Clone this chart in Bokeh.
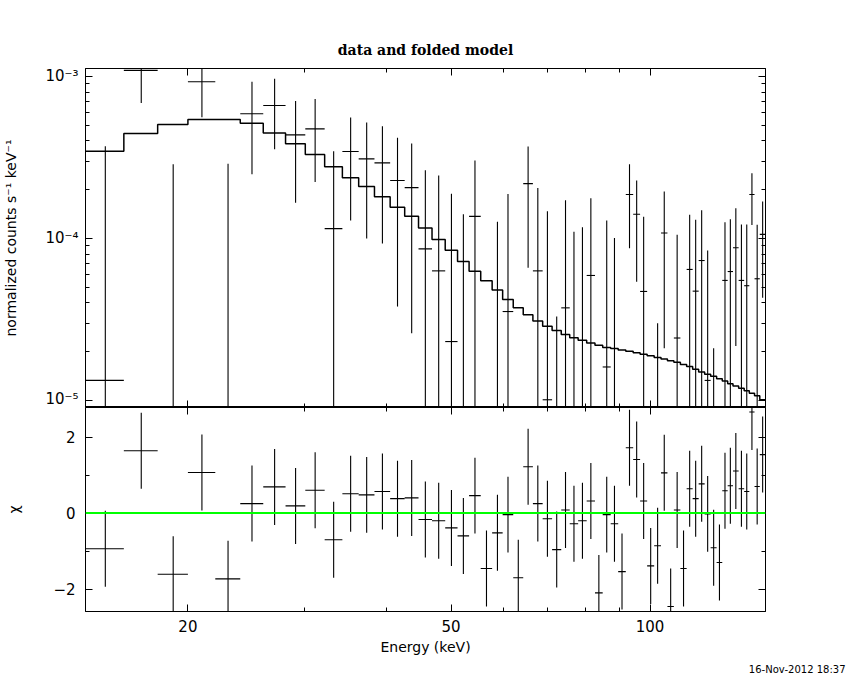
import numpy as np
from bokeh.plotting import figure
from bokeh.layouts import column
from bokeh.models import (Range1d, FixedTicker, LogAxis, LinearAxis, Span, Title,
                          CustomJSTickFormatter)
from bokeh.embed import file_html
from bokeh.resources import INLINE

# ---------------- data ----------------
edges = [14, 16, 18, 20, 22, 24, 26, 28.1, 30.1, 32.2, 34.25, 36.25, 38.3, 40.45,
         42.55, 44.65, 46.8, 49.0, 51.15, 53.25, 55.45, 57.7, 59.85, 62.1, 64.3,
         66.5, 68.8, 71.1, 73.4, 75.6, 77.85, 80.2, 82.55, 84.8, 87.2, 89.5, 91.9,
         94.3, 96.6, 99.0, 101.45, 103.9, 106.25, 108.65, 111.15, 113.6, 116.0,
         118.45, 120.95, 123.5, 126.1, 128.6, 131.05, 133.5, 136.15, 138.8, 141.3,
         143.9, 146.55, 149.5]

model = [3.46e-4, 4.45e-4, 5.06e-4, 5.43e-4, 5.43e-4, 5.15e-4, 4.47e-4, 3.84e-4,
         3.30e-4, 2.77e-4, 2.37e-4, 2.09e-4, 1.81e-4, 1.56e-4, 1.37e-4, 1.16e-4,
         9.86e-5, 8.47e-5, 7.21e-5, 6.28e-5, 5.48e-5, 4.80e-5, 4.20e-5, 3.73e-5,
         3.38e-5, 3.10e-5, 2.87e-5, 2.70e-5, 2.55e-5, 2.44e-5, 2.35e-5, 2.26e-5,
         2.19e-5, 2.12e-5, 2.09e-5, 2.05e-5, 2.01e-5, 1.97e-5, 1.93e-5, 1.89e-5,
         1.84e-5, 1.80e-5, 1.76e-5, 1.72e-5, 1.67e-5, 1.62e-5, 1.56e-5, 1.50e-5,
         1.45e-5, 1.41e-5, 1.36e-5, 1.32e-5, 1.27e-5, 1.23e-5, 1.19e-5, 1.15e-5,
         1.11e-5, 1.07e-5, 1.01e-5]

rate = [1.33e-5, 1.09e-3, -7.2e-5, 9.27e-4, -5.9e-5, 5.89e-4, 6.62e-4, 4.36e-4,
        4.75e-4, 1.15e-4, 3.44e-4, 3.10e-4, 2.93e-4, 2.28e-4, 2.06e-4, 8.63e-5,
        6.31e-5, 2.31e-5, -3.1e-5, 1.37e-4, -1.79e-4, -3.8e-5, 3.54e-5, -2.26e-4,
        2.18e-4, 6.31e-5, 1.01e-5, -1.07e-4, 3.73e-5, -8.9e-6, 1.0e-7, 5.91e-5,
        -2.20e-4, 1.61e-5, -1.02e-5, -1.49e-4, 1.87e-4, 1.41e-4, 4.71e-5, -1.06e-4,
        -5.6e-5, 1.08e-4, -1.91e-4, 2.43e-5, -1.0e-4, 6.44e-5, 4.73e-5, 7.31e-5,
        1.33e-5, -5.9e-5, -8.4e-5, 5.51e-5, 6.25e-5, 8.77e-5, 5.51e-5, 5.11e-5,
        1.87e-4, 5.64e-5, 1.06e-4]

rate_err = [3.57e-4, 4.05e-4, 3.59e-4, 3.66e-4, 3.48e-4, 3.40e-4, 3.06e-4, 2.70e-4,
            2.52e-4, 2.31e-4, 2.15e-4, 2.10e-4, 2.00e-4, 1.90e-4, 1.80e-4, 1.77e-4,
            1.82e-4, 1.66e-4, 1.72e-4, 1.66e-4, 1.60e-4, 1.65e-4, 1.53e-4, 1.55e-4,
            1.52e-4, 1.42e-4, 1.37e-4, 1.40e-4, 1.35e-4, 1.19e-4, 1.17e-4, 1.18e-4,
            1.15e-4, 1.13e-4, 1.11e-4, 1.10e-4, 1.00e-4, 8.7e-5, 8.9e-5, 9.0e-5,
            8.6e-5, 8.7e-5, 8.5e-5, 8.1e-5, 8.0e-5, 7.56e-5, 8.3e-5, 7.6e-5,
            7.1e-5, 8.0e-5, 7.5e-5, 7.1e-5, 6.9e-5, 6.6e-5, 6.7e-5, 7.1e-5,
            6.6e-5, 6.5e-5, 6.3e-5]

chi = [-0.94, 1.64, -1.61, 1.07, -1.73, 0.25, 0.69, 0.19, 0.60, -0.70, 0.51, 0.48,
       0.57, 0.38, 0.40, -0.17, -0.20, -0.39, -0.60, 0.46, -1.46, -0.52, -0.04,
       -1.70, 1.22, 0.25, -0.15, -0.96, 0.08, -0.28, -0.20, 0.32, -2.10, -0.04,
       -0.28, -1.54, 1.72, 1.41, 0.32, -1.39, -0.86, 1.06, -2.46, 0.08, -1.46,
       0.64, 0.38, 0.77, -0.02, -0.91, -1.30, 0.59, 0.72, 1.11, 0.64, 0.57, 2.66,
       0.70, 1.54]

chi_err = [1.0] * len(chi)

title_text = "data and folded model"
x_label = "Energy (keV)"
y_label_top = "normalized counts s\u207b\u00b9 keV\u207b\u00b9"
y_label_bot = "\u03c7"
date_text = "16-Nov-2012 18:37"

x_major = [20, 50, 100]
x_minor = [30, 40, 60, 70, 80, 90]
y_major = [1e-5, 1e-4, 1e-3]
y_minor = [k * 1e-5 for k in range(2, 10)] + [k * 1e-4 for k in range(2, 10)]
c_major = [-2, 0, 2]
c_minor = [-1, 1]

# ---------------- derived arrays ----------------
lo = np.array(edges[:-1])
hi = np.array(edges[1:])
mid = (lo + hi) / 2.0
rate_a = np.array(rate)
err_a = np.array(rate_err)
chi_a = np.array(chi)
cerr_a = np.array(chi_err)

FONT = "DejaVu Sans"
W = 850
ML, MR = 85, 85

blank = CustomJSTickFormatter(code="return ''")
sup_fmt = CustomJSTickFormatter(code="""
const e = Math.round(Math.log10(tick));
const s = {'-':'\u207b','0':'\u2070','1':'\u00b9','2':'\u00b2','3':'\u00b3','4':'\u2074','5':'\u2075','6':'\u2076','7':'\u2077','8':'\u2078','9':'\u2079'};
return '10' + String(e).split('').map(c => s[c]).join('');
""")
int_fmt = CustomJSTickFormatter(code="return tick.toFixed(0);")
chi_fmt = CustomJSTickFormatter(code="return tick < 0 ? '\u2212' + Math.abs(tick) : String(tick);")


def style(ax, ticker, fmt, labels):
    ax.ticker = ticker
    ax.formatter = fmt if labels else blank
    ax.major_tick_in = 7
    ax.major_tick_out = 0
    ax.minor_tick_in = 4
    ax.minor_tick_out = 0
    ax.major_tick_line_color = "black"
    ax.minor_tick_line_color = "black"
    ax.axis_line_color = "black"
    ax.major_label_text_font = FONT
    ax.major_label_text_font_size = "15px"
    ax.major_label_text_color = "black"
    ax.axis_label_text_font = FONT
    ax.axis_label_text_font_size = "14px"
    ax.axis_label_text_font_style = "normal"
    ax.axis_label_text_color = "black"
    if not labels:
        ax.major_label_standoff = 0


# ---------------- top panel ----------------
top = figure(width=W, height=407, x_axis_type="log", y_axis_type="log",
             x_range=Range1d(14, 149.5), y_range=Range1d(9.05e-6, 1.12e-3),
             output_backend="svg", toolbar_location=None,
             min_border_left=ML, min_border_right=MR, min_border_top=68,
             min_border_bottom=0, title=title_text)
top.title.text_font = "DejaVu Serif"
top.title.text_font_size = "14px"
top.title.text_font_style = "bold"
top.title.text_color = "black"
top.title.align = "center"
top.title.standoff = 22
top.grid.visible = False
top.outline_line_color = "black"
top.background_fill_color = "white"
top.border_fill_color = "white"

xt = FixedTicker(ticks=x_major, minor_ticks=x_minor)
yt = FixedTicker(ticks=y_major, minor_ticks=y_minor)
style(top.xaxis[0], xt, blank, False)
style(top.yaxis[0], yt, sup_fmt, True)
top.yaxis[0].axis_label = y_label_top
top.yaxis[0].major_label_standoff = 7
top.yaxis[0].axis_label_standoff = 23
ax_t = LogAxis()
style(ax_t, xt, blank, False)
top.add_layout(ax_t, "above")
ay_r = LogAxis()
style(ay_r, yt, blank, False)
top.add_layout(ay_r, "right")

# model histogram
sx = np.repeat(np.array(edges), 2)[1:-1]
sy = np.repeat(np.array(model), 2)
top.line(sx, sy, line_color="black", line_width=1.5)

# data error bars
ytop = rate_a + err_a
ybot = np.clip(rate_a - err_a, 1e-9, None)
vis = ytop > 0
top.segment(x0=mid[vis], x1=mid[vis], y0=ybot[vis], y1=ytop[vis],
            line_color="black", line_width=1.1)
pos = rate_a > 0
top.segment(x0=lo[pos], x1=hi[pos], y0=rate_a[pos], y1=rate_a[pos],
            line_color="black", line_width=1.1)

# ---------------- bottom panel ----------------
bot = figure(width=W, height=272, x_axis_type="log",
             x_range=top.x_range, y_range=Range1d(-2.59, 2.78),
             output_backend="svg", toolbar_location=None,
             min_border_left=ML, min_border_right=MR, min_border_top=0,
             min_border_bottom=68)
bot.grid.visible = False
bot.outline_line_color = "black"
bot.background_fill_color = "white"
bot.border_fill_color = "white"
ct = FixedTicker(ticks=c_major, minor_ticks=c_minor)
style(bot.xaxis[0], xt, int_fmt, True)
bot.xaxis[0].axis_label = x_label
bot.xaxis[0].major_label_standoff = 8
bot.xaxis[0].axis_label_standoff = 4
style(bot.yaxis[0], ct, chi_fmt, True)
bot.yaxis[0].axis_label = y_label_bot
bot.yaxis[0].major_label_standoff = 10
bot.yaxis[0].axis_label_standoff = 28
bx_t = LogAxis()
style(bx_t, xt, blank, False)
bot.add_layout(bx_t, "above")
by_r = LinearAxis()
style(by_r, ct, blank, False)
bot.add_layout(by_r, "right")

bot.add_layout(Span(location=0, dimension="width", line_color="#00ff00", line_width=2))
bot.segment(x0=mid, x1=mid, y0=chi_a - cerr_a, y1=chi_a + cerr_a,
            line_color="black", line_width=1.1)
bot.segment(x0=lo, x1=hi, y0=chi_a, y1=chi_a, line_color="black", line_width=1.1)

date_title = Title(text=date_text, align="right", offset=-80, standoff=9,
                   text_font=FONT, text_font_size="10px", text_font_style="normal",
                   text_color="black")
bot.add_layout(date_title, "below")

layout = column(top, bot, spacing=0)
open("out.html", "w").write(file_html(layout, INLINE))
